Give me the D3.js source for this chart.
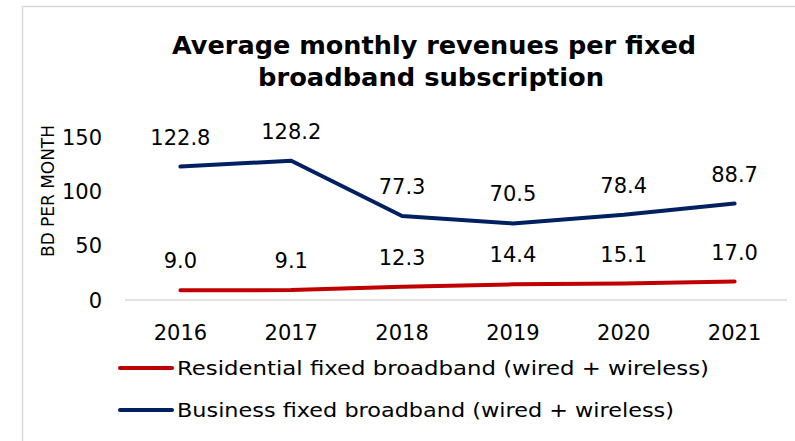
<!DOCTYPE html>
<html>
<head>
<meta charset="utf-8">
<script src="https://cdn.jsdelivr.net/npm/d3@7"></script>
<style>
  html, body { margin: 0; padding: 0; background: #fff; }
  svg { display: block; }
  text { font-family: "Century Gothic", "DejaVu Sans", sans-serif; fill: #000; }
</style>
</head>
<body>
<svg id="chart" width="795" height="441"></svg>
<script>
// Average monthly revenue per fixed broadband subscription (BD per month)
const years = ["2016", "2017", "2018", "2019", "2020", "2021"];
const residential = [9.0, 9.1, 12.3, 14.4, 15.1, 17.0];
const business = [122.8, 128.2, 77.3, 70.5, 78.4, 88.7];
const yTicks = [0, 50, 100, 150];
const seriesNames = [
  "Residential fixed broadband (wired + wireless)",
  "Business fixed broadband (wired + wireless)"
];
const seriesColors = ["#C00000", "#002060"];

const svg = d3.select("#chart");

// chart frame
svg.append("rect")
  .attr("x", 22.5).attr("y", 6.5)
  .attr("width", 800).attr("height", 500)
  .attr("fill", "#fff").attr("stroke", "#d9d9d9").attr("stroke-width", 1.5);

// title
const title = svg.append("text")
  .attr("text-anchor", "middle")
  .attr("font-weight", "bold")
  .attr("font-size", 25);
title.append("tspan").attr("x", 434).attr("y", 54).text("Average monthly revenues per fixed")
  .attr("textLength", 524).attr("lengthAdjust", "spacingAndGlyphs");
title.append("tspan").attr("x", 431).attr("y", 86).text("broadband subscription")
  .attr("textLength", 346).attr("lengthAdjust", "spacingAndGlyphs");

const x = d3.scaleBand().domain(years).range([125, 790]);
const y = d3.scaleLinear().domain([0, 150]).range([300, 137]);

// baseline
svg.append("line")
  .attr("x1", 125).attr("x2", 787)
  .attr("y1", y(0)).attr("y2", y(0))
  .attr("stroke", "#d9d9d9").attr("stroke-width", 1.5);

// y tick labels
svg.append("g").selectAll("text").data(yTicks).join("text")
  .attr("x", 102).attr("y", d => y(d))
  .attr("dy", "0.36em")
  .attr("text-anchor", "end")
  .attr("font-size", 21)
  .text(d => d);

// y axis title
svg.append("text")
  .attr("transform", `translate(54,${191}) rotate(-90)`)
  .attr("text-anchor", "middle")
  .attr("font-size", 17)
  .attr("textLength", 132).attr("lengthAdjust", "spacingAndGlyphs")
  .text("BD PER MONTH");

// x tick labels
svg.append("g").selectAll("text").data(years).join("text")
  .attr("x", d => x(d) + x.bandwidth() / 2)
  .attr("y", 340)
  .attr("text-anchor", "middle")
  .attr("font-size", 21)
  .text(d => d);

const line = d3.line()
  .x((d, i) => x(years[i]) + x.bandwidth() / 2)
  .y(d => y(d));

[residential, business].forEach((vals, k) => {
  svg.append("path")
    .datum(vals)
    .attr("d", line)
    .attr("fill", "none")
    .attr("stroke", seriesColors[k])
    .attr("stroke-width", 4)
    .attr("stroke-linecap", "round")
    .attr("stroke-linejoin", "round");

  svg.append("g").selectAll("text").data(vals).join("text")
    .attr("x", (d, i) => x(years[i]) + x.bandwidth() / 2)
    .attr("y", d => y(d) - 22)
    .attr("text-anchor", "middle")
    .attr("font-size", 21)
    .text(d => d.toFixed(1));
});

// legend
const legend = svg.append("g");
seriesNames.forEach((name, k) => {
  const ly = [368, 410][k];
  legend.append("line")
    .attr("x1", 120).attr("x2", 172)
    .attr("y1", ly).attr("y2", ly)
    .attr("stroke", seriesColors[k]).attr("stroke-width", 4)
    .attr("stroke-linecap", "round");
  legend.append("text")
    .attr("x", 177).attr("y", ly).attr("dy", "0.35em")
    .attr("font-size", 20)
    .attr("textLength", k === 0 ? 532 : 497).attr("lengthAdjust", "spacingAndGlyphs")
    .text(name);
});
</script>
</body>
</html>
